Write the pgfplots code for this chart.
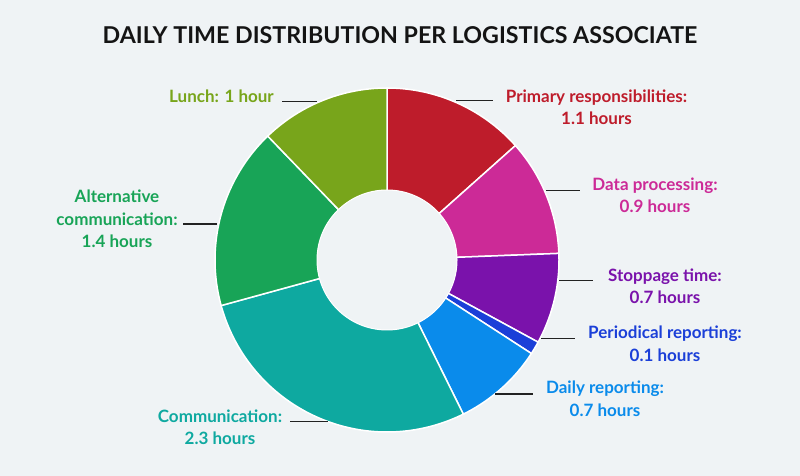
\documentclass[border=0pt]{standalone}
\usepackage{pgfplots}
\usepackage{pgfplotstable}
\pgfplotsset{compat=1.18}
\usepackage{fontspec}
\setmainfont{Lato}

\definecolor{bg}{HTML}{EFF3F5}
\definecolor{cA}{HTML}{BE1C2B}
\definecolor{cB}{HTML}{CC2A97}
\definecolor{cC}{HTML}{7A12AB}
\definecolor{cD}{HTML}{1B3FD8}
\definecolor{cE}{HTML}{0A8BEB}
\definecolor{cF}{HTML}{0EA9A0}
\definecolor{cG}{HTML}{18A457}
\definecolor{cH}{HTML}{78A51B}
\definecolor{leader}{HTML}{222222}

% hours per activity, clockwise from 12 o'clock
\pgfplotstableread{
id value
A 1.1
B 0.9
C 0.7
D 0.1
E 0.7
F 2.3
G 1.4
H 1.0
}\data

\begin{document}
\begin{tikzpicture}
% total and cumulative angles from the table
\xdef\tot{0}
\foreach \i in {0,...,7}{%
  \pgfplotstablegetelem{\i}{value}\of\data
  \pgfmathparse{\tot+\pgfplotsretval}\xdef\tot{\pgfmathresult}}
\xdef\cum{0}
\foreach \i/\L in {0/A,1/B,2/C,3/D,4/E,5/F,6/G,7/H}{%
  \pgfplotstablegetelem{\i}{value}\of\data
  \pgfmathparse{90-360*\cum/\tot}\expandafter\xdef\csname s\L\endcsname{\pgfmathresult}%
  \pgfmathparse{\cum+\pgfplotsretval}\xdef\cum{\pgfmathresult}%
  \pgfmathparse{90-360*\cum/\tot}\expandafter\xdef\csname e\L\endcsname{\pgfmathresult}}

\newcommand\sector[1]{%
  \addplot[fill=c#1, draw=white, line width=1.5pt,
    domain=\csname e#1\endcsname:\csname s#1\endcsname, samples=90, variable=\t]
    ({387+172*cos(\t)},{216+172*sin(\t)}) -- (axis cs:387,216) -- cycle;}
\newcommand\lab[4]{% x, baseline (pixel), color, text
  \node[anchor=base, text=#3, inner sep=0pt, font=\fontsize{17}{20}\selectfont\bfseries]
    at (axis cs:#1,476-#2) {#4};}
\newcommand\lead[3]{% x1, x2, y (pixel)
  \draw[leader, line width=1.6pt] (axis cs:#1,476-#3) -- (axis cs:#2,476-#3);}

\begin{axis}[
  width=800pt, height=476pt, scale only axis,
  xmin=0, xmax=800, ymin=0, ymax=476,
  hide axis, clip=false]
\fill[bg] (axis cs:0,0) rectangle (axis cs:800,476);

\sector{A}\sector{B}\sector{C}\sector{D}\sector{E}\sector{F}\sector{G}\sector{H}
\draw[fill=bg, draw=white, line width=1pt] (axis cs:387,216) circle[radius=70pt];

\node[anchor=base, inner sep=0pt, text=black!92, font=\fontsize{23.2}{27}\selectfont\bfseries]
  at (axis cs:400,476-44) {DAILY TIME DISTRIBUTION PER LOGISTICS ASSOCIATE};

% labels
\lab{221.5}{102.7}{cH}{Lunch: 1 hour}
\lead{282}{317}{101.5}

\lab{596.5}{103}{cA}{Primary responsibilities:}
\lab{596.5}{124.5}{cA}{1.1 hours}
\lead{456}{493}{100.7}

\lab{655}{191}{cB}{Data processing:}
\lab{655}{213}{cB}{0.9 hours}
\lead{546}{580}{190.5}

\lab{665}{281.7}{cC}{Stoppage time:}
\lab{665}{304}{cC}{0.7 hours}
\lead{559}{593}{280.7}

\lab{665}{339}{cD}{Periodical reporting:}
\lab{665}{361.5}{cD}{0.1 hours}
\lead{541}{575}{338.5}

\lab{605}{393.3}{cE}{Daily reporting:}
\lab{605}{416.5}{cE}{0.7 hours}
\lead{495}{533}{394}

\lab{220}{422.3}{cF}{Communication:}
\lab{220}{444.3}{cF}{2.3 hours}
\lead{290}{328}{421.7}

\lab{117}{202.7}{cG}{Alternative}
\lab{117}{225.5}{cG}{communication:}
\lab{117}{248}{cG}{1.4 hours}
\lead{183}{217}{224}
\end{axis}
\end{tikzpicture}
\end{document}
